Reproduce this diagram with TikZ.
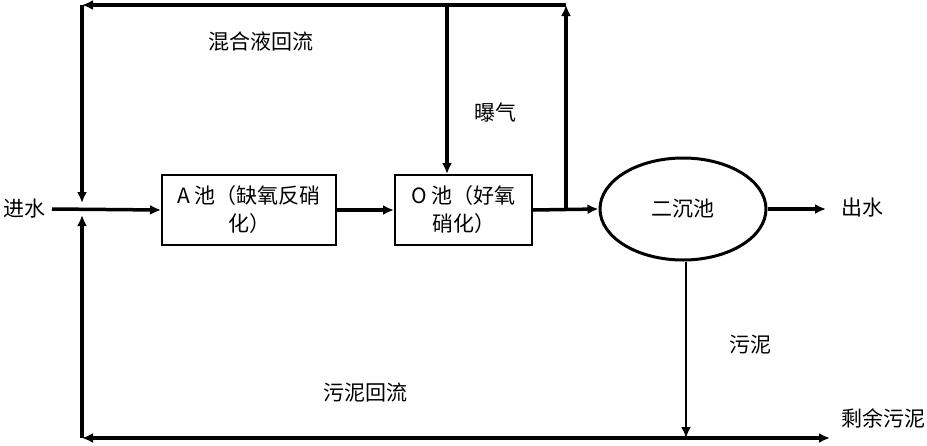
\documentclass[tikz,border=0pt]{standalone}
\usepackage{fontspec}
\setmainfont{Noto Sans CJK SC}
\usetikzlibrary{arrows.meta,shapes.geometric}
\begin{document}
\begin{tikzpicture}[x=1pt,y=-1pt,
  tip/.style={-{Latex[length=11pt,width=10pt]}},
  flow/.style={line width=3.5pt,tip},
  tank/.style={draw,line width=2pt,minimum width=174pt,minimum height=70pt,align=center,
    font=\fontsize{21}{28}\selectfont,inner sep=2pt},
  lbl/.style={font=\fontsize{21}{26}\selectfont,inner sep=0pt}]
\useasboundingbox (0,0) rectangle (927,445);
% nodes
\node[lbl] (in) at (25,209) {进水};
\node[tank] (A) at (249,210) {A 池（缺氧反硝\\化）};
\node[tank,minimum width=137pt] (O) at (463.5,210) {O 池（好氧\\硝化）};
\node[draw,ellipse,line width=3pt,minimum width=166pt,minimum height=102pt,
  font=\fontsize{21}{26}\selectfont] (sec) at (683,209) {二沉池};
\node[lbl] (out) at (862,208) {出水};
\node[lbl] (mix) at (261,42) {混合液回流};
\node[lbl] (air) at (495,112) {曝气};
\node[lbl] (sl) at (750,345) {污泥};
\node[lbl] (slr) at (365,393) {污泥回流};
\node[lbl] (ex) at (883,418) {剩余污泥};
% coordinates
\coordinate (inS) at (52,209);
\coordinate (jLa) at (82,203);
\coordinate (jLb) at (82,215);
\coordinate (cTL) at (82,5);
\coordinate (cTR) at (566,5);
\coordinate (jR) at (566,209);
\coordinate (airTop) at (447,5);
\coordinate (outW) at (826,209);
\coordinate (cBL) at (82,438);
\coordinate (cBR) at (686,438);
\coordinate (bEnd) at (830,438);
% connectors
\draw[flow] (inS) -- (A.west);
\draw[flow] (A.east) -- (O.west);
\draw[flow] (O.east) -- (sec.west);
\draw[flow] (jR) -- (cTR);
\draw[flow] (cTR) -- (cTL);
\draw[flow] (cTL) -- (jLa);
\draw[flow] (airTop) -- (airTop |- O.north);
\draw[flow] (sec.east) -- (outW);
\draw[line width=2.5pt,tip] (cBR |- sec.south) -- (cBR);
\draw[line width=3.5pt,{Latex[length=11pt,width=10pt]}-{Latex[length=11pt,width=10pt]}] (cBL) -- (bEnd);
\draw[flow] (cBL) -- (jLb);
\end{tikzpicture}
\end{document}
